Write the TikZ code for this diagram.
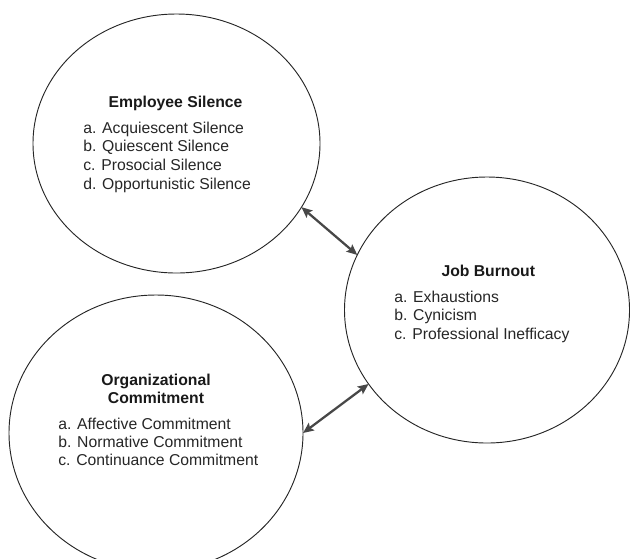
\documentclass[tikz,border=0pt]{standalone}
\usepackage{fontspec}
\setmainfont{Liberation Sans}
\usetikzlibrary{shapes.geometric,arrows.meta}
\begin{document}
\begin{tikzpicture}[x=0.75pt,y=-0.75pt,
  circ/.style={ellipse, draw=black!85, line width=0.7pt, inner sep=0pt, outer sep=0pt},
  ttl/.style={anchor=base, font=\fontsize{11.8}{14}\selectfont\bfseries, text=black!90, inner sep=0pt},
  itm/.style={anchor=base west, font=\fontsize{11.8}{14}\selectfont, text=black!85, inner sep=0pt},
  link/.style={draw=black!72, line width=1.7pt,
    {Stealth[length=8pt,width=7pt,inset=1.5pt]}-{Stealth[length=8pt,width=7pt,inset=1.5pt]}}]
\useasboundingbox (0,0) rectangle (630,558);

% ellipses
\node[circ, minimum width=287*0.75pt, minimum height=259*0.75pt] (es) at (176.5,143.5) {};
\node[circ, minimum width=285*0.75pt, minimum height=266*0.75pt] (jb) at (487,310) {};
\node[circ, minimum width=294*0.75pt, minimum height=276*0.75pt] (oc) at (156,433) {};

% Employee Silence
\node[ttl] (es-t) at (175.5,107) {Employee Silence};
\node[itm] (es-a) at (83,133) {a. Acquiescent Silence};
\node[itm] (es-b) at (83,151.7) {b. Quiescent Silence};
\node[itm] (es-c) at (83,170.4) {c. Prosocial Silence};
\node[itm] (es-d) at (83,189.1) {d. Opportunistic Silence};

% Job Burnout
\node[ttl] (jb-t) at (488.3,276) {Job Burnout};
\node[itm] (jb-a) at (394,302) {a. Exhaustions};
\node[itm] (jb-b) at (394,320.9) {b. Cynicism};
\node[itm] (jb-c) at (394,339.8) {c. Professional Inefficacy};

% Organizational Commitment
\node[ttl] (oc-t1) at (156,385) {Organizational};
\node[ttl] (oc-t2) at (156,403) {Commitment};
\node[itm] (oc-a) at (58,429) {a. Affective Commitment};
\node[itm] (oc-b) at (58,447) {b. Normative Commitment};
\node[itm] (oc-c) at (58,465) {c. Continuance Commitment};

% connectors
\draw[link] (es.-27) -- (jb.157);
\draw[link] (oc.-0.5) -- (jb.212.7);
\end{tikzpicture}
\end{document}
